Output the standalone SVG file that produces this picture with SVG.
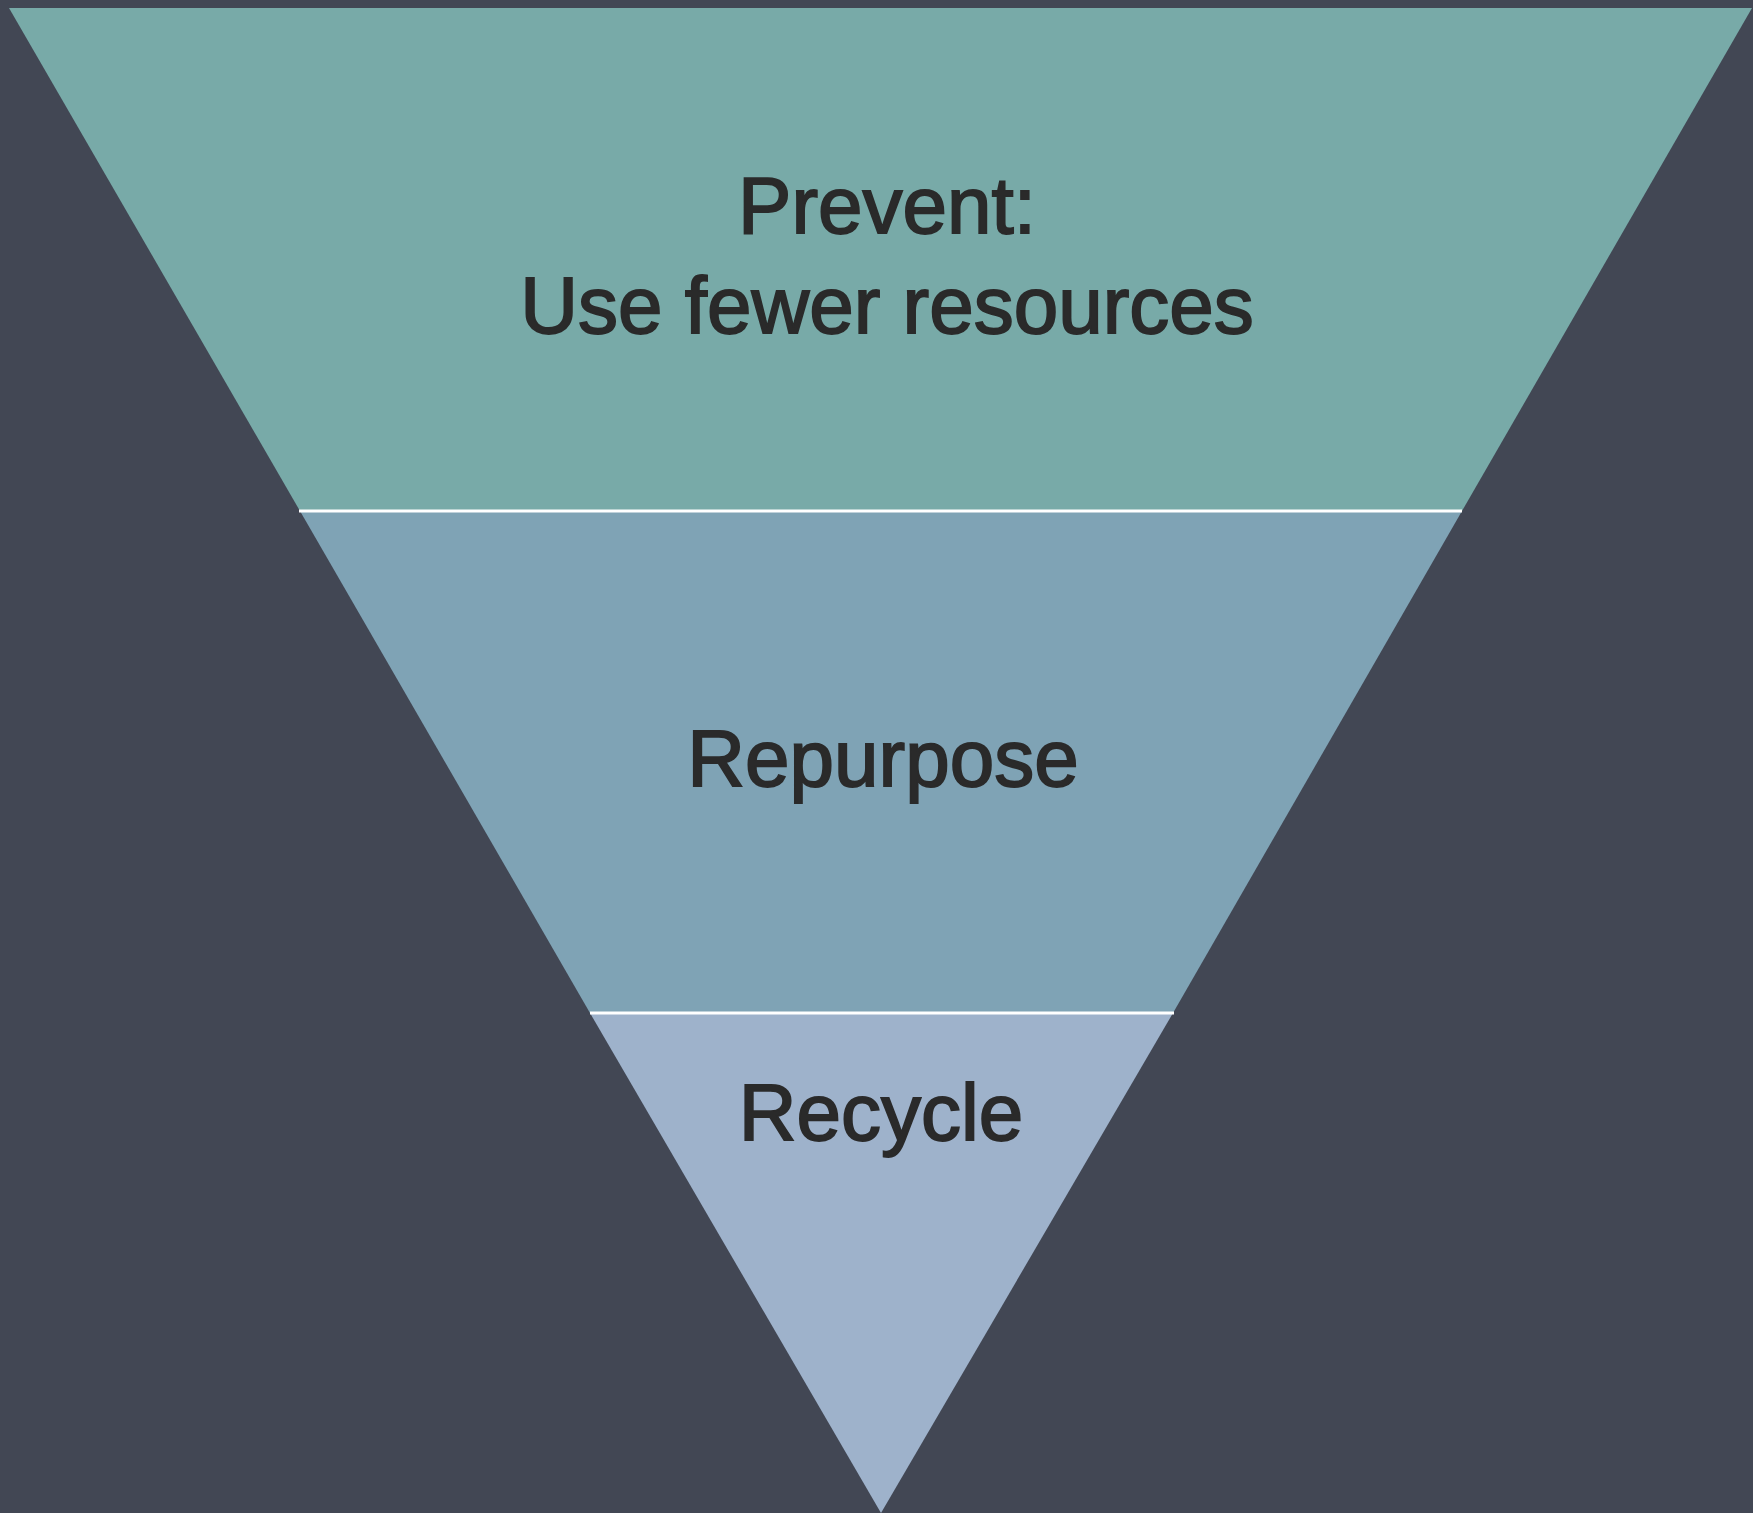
<svg xmlns="http://www.w3.org/2000/svg" width="1753" height="1513" viewBox="0 0 1753 1513">
<style>
.lbl{font-family:"Liberation Sans",Arial,sans-serif;font-size:80px;fill:#2a2a2a;stroke:#2a2a2a;stroke-width:1.8;text-anchor:middle}
.sep{stroke:#ffffff;stroke-width:3;fill:none}
</style>
<rect x="0" y="0" width="1753" height="1513" fill="#424754"/>
<g id="prevent">
<polygon points="9,8 1752,8 1462,511 300,511" fill="#78aaa8"/>
<text class="lbl" x="887" y="233">Prevent:</text>
<text class="lbl" x="887" y="333">Use fewer resources</text>
</g>
<g id="repurpose">
<polygon points="300,511 1462,511 1173,1013 590,1013" fill="#7fa3b5"/>
<text class="lbl" x="883" y="786">Repurpose</text>
</g>
<g id="recycle">
<polygon points="590,1013 1173,1013 881,1513" fill="#9eb2cb"/>
<text class="lbl" x="881" y="1140">Recycle</text>
</g>
<g id="connectors">
<line class="sep" x1="299" y1="511" x2="1462" y2="511"/>
<line class="sep" x1="590" y1="1013" x2="1174" y2="1013"/>
</g>
</svg>
